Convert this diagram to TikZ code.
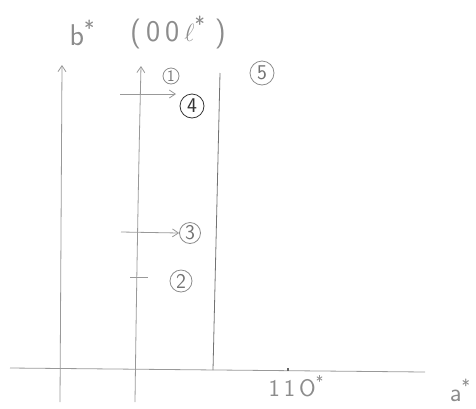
\documentclass[tikz,border=0pt]{standalone}
\usetikzlibrary{arrows.meta}
\begin{document}
\begin{tikzpicture}[x=1pt,y=-1pt,
  pencil/.style={draw=black!40, line width=0.8pt},
  arr/.style={pencil, -{Straight Barb[length=6pt,width=8pt]}},
  num/.style={circle, draw=black!45, line width=0.8pt, inner sep=0pt, minimum size=#1, text=black!55, font=\sffamily\fontsize{21}{21}\selectfont},
  lbl/.style={text=black!45, font=\sffamily\fontsize{30}{30}\selectfont}]
\useasboundingbox (0,0) rectangle (476,408);
% axis coordinates
\coordinate (axL) at (10,368);
\coordinate (axR) at (425,372);
\coordinate (v1b) at (60,402);
\coordinate (v1t) at (62,65);
\coordinate (v2b) at (135,402);
\coordinate (v2t) at (141,66);
\coordinate (v3b) at (213,370);
\coordinate (v3t) at (220,73);
\coordinate (tk) at (288,370.5);
% lines
\draw[pencil] (axL) -- (axR);
\draw[arr] (v1b) -- (v1t);
\draw[arr] (v2b) .. controls (137,250) and (139,150) .. (v2t);
\draw[pencil, draw=black!55] (v3b) -- (v3t);
\draw[pencil, draw=black!60, line width=1.2pt] (tk) -- ++(0,-3);
% labels
\node[lbl] (bstar) at (82,33) {b\raisebox{0.3em}{\fontsize{22}{22}\selectfont *}};
\node[lbl] (hkl) at (178,33) {(\,0\,0\,$\ell$\raisebox{0.3em}{\fontsize{22}{22}\selectfont *}\,\,)};
\node[lbl, font=\sffamily\fontsize{24}{24}\selectfont] (l110) at (296,386) {1\,1\,O\raisebox{0.4em}{\fontsize{16}{16}\selectfont *}};
\node[lbl, font=\sffamily\fontsize{26}{26}\selectfont] (astar) at (460,390) {a\raisebox{0.35em}{\fontsize{18}{18}\selectfont *}};
% circled numbers
\node[num=16pt, font=\sffamily\fontsize{16}{16}\selectfont] (n1) at (171,76) {1};
\node[num=24pt] (n5) at (262,73) {5};
\node[num=24pt, draw=black!80, text=black!80] (n4) at (192,106) {4};
\node[num=21pt] (n3) at (190,233) {3};
\node[num=22pt] (n2) at (181,281) {2};
% arrows and tick
\coordinate (a4s) at (120,94);
\coordinate (a4e) at (176,94);
\coordinate (a3s) at (121,232);
\coordinate (t2s) at (130,277);
\coordinate (t2e) at (148,277);
\draw[arr] (a4s) -- (a4e);
\draw[arr] (a3s) -- (n3.west);
\draw[pencil] (t2s) -- (t2e);
\end{tikzpicture}
\end{document}
